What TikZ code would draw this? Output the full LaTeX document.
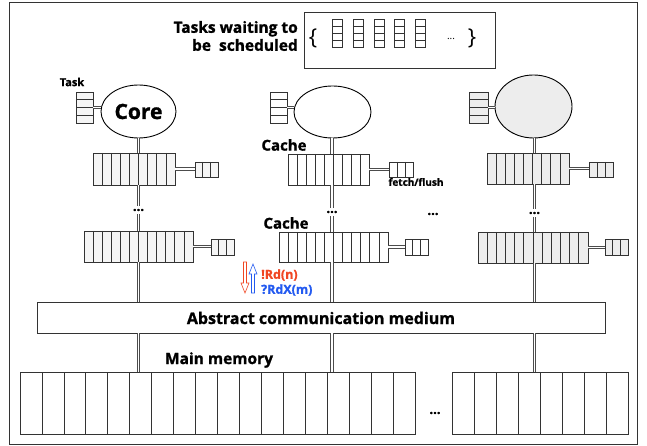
\documentclass[tikz,border=0pt]{standalone}
\usepackage{fontspec}
\setmainfont{Open Sans}[BoldFeatures={FakeBold=1.2}]
\usetikzlibrary{shapes.geometric,fit,calc}
\definecolor{arrred}{RGB}{240,70,35}
\definecolor{arrblue}{RGB}{35,90,240}
\newcommand{\hcells}[7]{%
  \node[cellbox, fill=#7, fit={(#2,#3) (#4,#5)}] (#1) {};
  \pgfmathtruncatemacro{\nmo}{#6-1}%
  \foreach \ci in {1,...,\nmo}{\draw[cellline] ({#2+(#4-#2)*\ci/#6},#3) -- ({#2+(#4-#2)*\ci/#6},#5);}%
}
\newcommand{\vcells}[7]{%
  \node[cellbox, fill=#7, fit={(#2,#3) (#4,#5)}] (#1) {};
  \pgfmathtruncatemacro{\nmo}{#6-1}%
  \foreach \ci in {1,...,\nmo}{\draw[cellline] (#2,{#3+(#5-#3)*\ci/#6}) -- (#4,{#3+(#5-#3)*\ci/#6});}%
}
\begin{document}
\begin{tikzpicture}[x=1pt,y=-1pt,
  frame/.style={draw=black!80, line width=0.9pt},
  cellbox/.style={draw=black!80, line width=0.7pt, inner sep=0pt},
  cellline/.style={draw=black!80, line width=0.7pt},
  conn/.style={draw=black!70, double=white, double distance=1.7pt, line width=0.85pt},
  core/.style={ellipse, draw=black, line width=0.9pt, inner sep=0pt},
  lbl/.style={font=\bfseries, inner sep=0pt},
  dots/.style={font=\bfseries\fontsize{13}{13}\selectfont, inner sep=0pt, minimum height=8pt},
  arr/.style={line width=0.6pt, line join=miter}
]
\useasboundingbox (0,0) rectangle (647,446);
\draw[frame] (9,2) rectangle (637,444);

% task queue
\node[lbl, align=right, anchor=east, font=\bfseries\fontsize{15.5}{18}\selectfont] (waitlbl) at (298,36) {Tasks waiting to\\be\ \ scheduled};
\node[draw=black!80, line width=0.7pt, fit={(304,12) (495,68)}, inner sep=0pt] (queue) {};
\node[inner sep=0pt, font=\fontsize{22}{22}\selectfont] (lbrace) at (313,38) {\{};
\vcells{q1}{332}{19}{342}{47}{4}{white}
\vcells{q2}{353}{19}{363}{47}{4}{white}
\vcells{q3}{374}{19}{384}{47}{4}{white}
\vcells{q4}{394}{19}{404}{47}{4}{white}
\vcells{q5}{415}{19}{425}{47}{4}{white}
\node[inner sep=0pt, font=\fontsize{10}{10}\selectfont] (qdots) at (451,39) {...};
\node[inner sep=0pt, font=\fontsize{22}{22}\selectfont] (rbrace) at (472,38) {\}};

% column 1
\node[core, minimum width=75pt, minimum height=53pt, fill=white, font=\bfseries\fontsize{21}{21}\selectfont] (core1) at (138.5,111.5) {Core};
\vcells{task1}{76}{92}{93}{123}{4}{black!4}
\node[lbl, font=\bfseries\fontsize{11}{11}\selectfont] (tasklbl) at (72,82) {Task};
\hcells{l1a}{93}{153}{175}{185}{9}{black!4}
\hcells{fq1a}{195}{162}{218}{177}{3}{black!4}
\node[dots] (d1) at (138.5,210) {...};
\hcells{l2a}{84}{231}{193}{262}{12}{black!4}
\hcells{fq2a}{211}{239}{234}{255}{3}{black!4}

% column 2
\node[core, minimum width=77pt, minimum height=52pt, fill=white] (core2) at (332.5,112) {};
\vcells{task2}{270}{92}{287}{123}{4}{white}
\node[lbl, font=\bfseries\fontsize{15}{15}\selectfont] (cachelbl1) at (284,145) {Cache};
\hcells{l1b}{288}{154}{369}{185}{9}{white}
\hcells{fq1b}{389}{162}{413}{177}{3}{white}
\node[lbl, font=\bfseries\fontsize{10}{10}\selectfont] (fetchlbl) at (416,182) {fetch/flush};
\node[dots] (d2) at (332,212) {...};
\node[lbl, font=\bfseries\fontsize{15}{15}\selectfont] (cachelbl2) at (286,223) {Cache};
\hcells{l2b}{279}{232}{388}{262}{12}{white}
\hcells{fq2b}{405}{239}{428}{255}{3}{white}
\node[dots] (d4) at (433,214) {...};

% column 3
\node[core, minimum width=77pt, minimum height=63pt, fill=black!7] (core3) at (533.5,106.5) {};
\vcells{task3}{469}{92}{488}{123}{4}{black!7}
\hcells{l1c}{487}{153}{569}{184}{9}{black!7}
\hcells{fq1c}{589}{162}{613}{177}{3}{black!7}
\node[dots] (d3) at (534.5,213) {...};
\hcells{l2c}{478}{232}{588}{263}{12}{black!7}
\hcells{fq2c}{605}{239}{628}{255}{3}{black!7}

% medium and memory
\node[draw=black!80, line width=0.7pt, fit={(37,302) (605,333)}, inner sep=0pt] (medium) {};
\node[lbl, font=\bfseries\fontsize{16}{16}\selectfont] (mediumlbl) at (321,318) {Abstract communication medium};
\node[lbl, font=\bfseries\fontsize{15.5}{15.5}\selectfont] (mainlbl) at (219,360) {Main memory};
\hcells{mem1}{20}{372}{415}{434}{18}{white}
\hcells{mem2}{452}{372}{628}{434}{8}{white}
\node[dots] (d5) at (435,413) {...};

% connectors
\foreach \c/\t/\la/\lb/\d/\m in {1/task1/l1a/l2a/d1/mem1, 2/task2/l1b/l2b/d2/mem1, 3/task3/l1c/l2c/d3/mem2}{
  \draw[conn] (\t.east) -- (core\c.west |- \t.east);
  \draw[conn] (\d.north |- core\c.south) -- (\d.north |- \la.north);
  \draw[conn] (\d.north |- \la.south) -- (\d.north);
  \draw[conn] (\d.south) -- (\d.south |- \lb.north);
  \draw[conn] (\d.south |- \lb.south) -- (\d.south |- medium.north);
  \draw[conn] (\d.south |- medium.south) -- (\d.south |- \m.north);
}
\draw[conn] (l1a.east) -- (l1a.east -| fq1a.west);
\draw[conn] (l2a.east) -- (l2a.east -| fq2a.west);
\draw[conn] (l1b.east) -- (l1b.east -| fq1b.west);
\draw[conn] (l2b.east) -- (l2b.east -| fq2b.west);
\draw[conn] (l1c.east) -- (l1c.east -| fq1c.west);
\draw[conn] (l2c.east) -- (l2c.east -| fq2c.west);

% read arrows and labels
\draw[arr, draw=arrred] (243.5,262) -- (246.5,262) -- (246.5,283) -- (249,283) -- (245,293) -- (241,283) -- (243.5,283) -- cycle;
\draw[arr, draw=arrblue] (251.5,293) -- (254.5,293) -- (254.5,274) -- (257,274) -- (253,264) -- (249,274) -- (251.5,274) -- cycle;
\node[lbl, anchor=west, text=arrred, font=\bfseries\fontsize{12.5}{12.5}\selectfont] (rdlbl) at (261,275) {!Rd(n)};
\node[lbl, anchor=west, text=arrblue, font=\bfseries\fontsize{12.5}{12.5}\selectfont] (rdxlbl) at (261,290) {?RdX(m)};
\end{tikzpicture}
\end{document}
